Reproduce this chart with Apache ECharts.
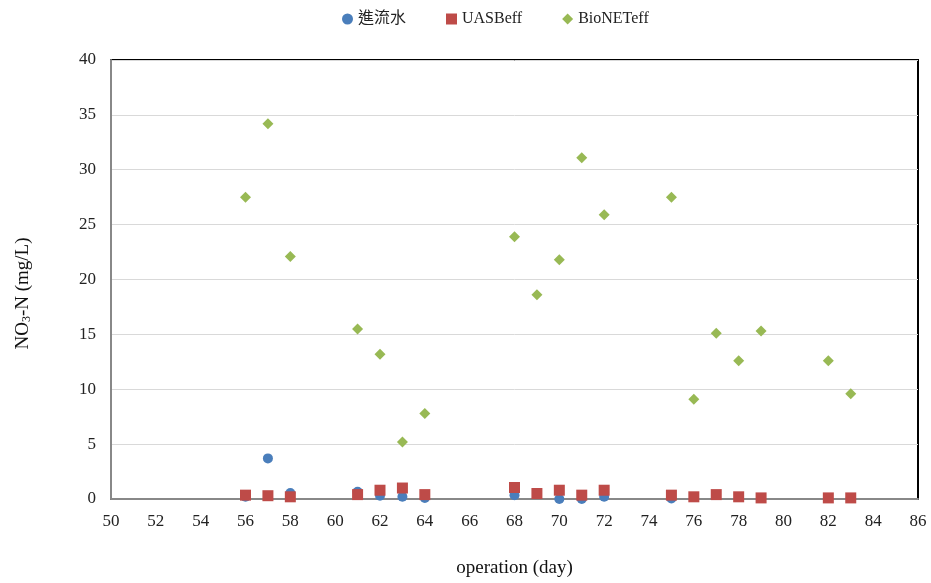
<!DOCTYPE html>
<html>
<head>
<meta charset="utf-8">
<script src="https://cdn.jsdelivr.net/npm/echarts@6/dist/echarts.min.js"></script>
<style>
  html, body { margin: 0; padding: 0; background: #fff; }
  #chart { width: 931px; height: 583px; }
</style>
</head>
<body>
<div id="chart"></div>
<script>
// operation day values
const influentDays = [56, 57, 58, 61, 62, 63, 64, 68, 70, 71, 72, 75, 83];
const influentVals = [0.2, 3.7, 0.55, 0.65, 0.3, 0.2, 0.1, 0.35, 0.0, 0.0, 0.2, 0.05, 0.1];

const uasbDays = [56, 57, 58, 61, 62, 63, 64, 68, 69, 70, 71, 72, 75, 76, 77, 78, 79, 82, 83];
const uasbVals = [0.35, 0.3, 0.2, 0.4, 0.8, 1.0, 0.4, 1.05, 0.5, 0.8, 0.35, 0.8, 0.35, 0.2, 0.4, 0.2, 0.1, 0.1, 0.1];

const bionetDays = [56, 57, 58, 61, 62, 63, 64, 68, 69, 70, 71, 72, 75, 76, 77, 78, 79, 82, 83];
const bionetVals = [27.5, 34.2, 22.1, 15.5, 13.2, 5.2, 7.8, 23.9, 18.6, 21.8, 31.1, 25.9, 27.5, 9.1, 15.1, 12.6, 15.3, 12.6, 9.6];

const seriesNames = ["進流水", "UASBeff", "BioNETeff"];

const pairs = (xs, ys) => xs.map((d, i) => [d, ys[i]]);

const chart = echarts.init(document.getElementById("chart"));

const serif = "'Liberation Serif', 'Noto Sans CJK TC', serif";

const option = {
  animation: false,
  textStyle: { fontFamily: serif },
  legend: {
    top: 6,
    left: 337,
    itemGap: 40,
    itemWidth: 11,
    itemHeight: 11,
    textStyle: { fontFamily: serif, fontSize: 16, color: "#222" },
    data: [
      { name: seriesNames[0], icon: "circle" },
      { name: seriesNames[1], icon: "rect" },
      { name: seriesNames[2], icon: "diamond" },
    ],
  },
  grid: {
    left: 111,
    right: 13,
    top: 60,
    bottom: 84,
    show: true,
    borderColor: "#000",
    borderWidth: 2,
  },
  xAxis: {
    type: "value",
    min: 50,
    max: 86,
    interval: 2,
    name: "operation (day)",
    nameLocation: "middle",
    nameGap: 60,
    nameTextStyle: { fontFamily: serif, fontSize: 19, color: "#111" },
    axisLine: { lineStyle: { color: "#888", width: 2 } },
    axisTick: { show: false },
    axisLabel: { fontFamily: serif, fontSize: 17, color: "#222", margin: 14 },
    splitLine: { show: false },
  },
  yAxis: {
    type: "value",
    min: 0,
    max: 40,
    interval: 5,
    name: "NO{sub|3}-N (mg/L)",
    nameLocation: "middle",
    nameGap: 78,
    nameRotate: 90,
    nameTextStyle: {
      fontFamily: serif,
      fontSize: 19,
      color: "#111",
      padding: [0, 28, 0, 0],
      rich: {
        sub: { fontFamily: serif, fontSize: 12, color: "#111", padding: [8, 0, 0, 0] },
      },
    },
    axisLine: { show: true, lineStyle: { color: "#888", width: 2 } },
    axisTick: { show: false },
    axisLabel: { fontFamily: serif, fontSize: 17, color: "#222", margin: 15 },
    splitLine: { lineStyle: { color: "#d9d9d9", width: 1 } },
  },
  series: [
    {
      name: seriesNames[0],
      type: "scatter",
      symbol: "circle",
      symbolSize: 10,
      itemStyle: { color: "#4a7ebb", opacity: 1 },
      data: pairs(influentDays, influentVals),
    },
    {
      name: seriesNames[1],
      type: "scatter",
      symbol: "rect",
      symbolSize: 11,
      itemStyle: { color: "#be4b48", opacity: 1 },
      data: pairs(uasbDays, uasbVals),
    },
    {
      name: seriesNames[2],
      type: "scatter",
      symbol: "diamond",
      symbolSize: 11,
      itemStyle: { color: "#98b954", opacity: 1 },
      data: pairs(bionetDays, bionetVals),
    },
  ],
};

chart.setOption(option);
</script>
</body>
</html>
